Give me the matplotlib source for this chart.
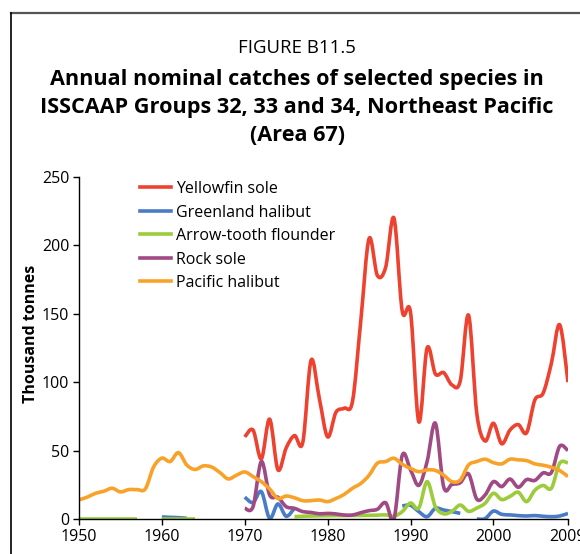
import numpy as np
import matplotlib
matplotlib.use("Agg")
import matplotlib.pyplot as plt
from matplotlib.path import Path
from matplotlib.patches import PathPatch
from matplotlib.lines import Line2D

plt.rcParams['font.family'] = ['Open Sans', 'DejaVu Sans']

years = list(range(1950, 2010))
nan = np.nan

# Annual catches, thousand tonnes (NaN = no data reported)
yellowfin_sole = [nan] * 20 + [
    60, 65, 44, 73, 36, 52, 61, 56, 116, 88,
    60, 78, 81, 86, 145, 205, 178, 184, 220, 152,
    151, 71, 125, 106, 107, 98, 101, 149, 77, 57,
    70, 55, 65, 69, 63, 87, 92, 114, 142, 100]

greenland_halibut = ([nan] * 10 + [1.5, 1.2, 1.0, 0.5] + [nan] * 6
                     + [16, 12, 20, 0.5, 11, 2, 8] + [nan] * 12
                     + [9.5, 10, 5.4, 1.7, 7.8, 6.6, 5.4, 4.1]
                     + [nan, 0, 0.3, 5.8, 3.4, 3, 2.5, 2.2, 2.5, 2, 1.7, 2.2, 4.1])

arrowtooth_flounder = ([0] * 8 + [nan, nan] + [0] * 5 + [nan] * 11
                       + [1.7, 2, 2.2, 2.3, 2.4, 2.5, 2.5, 2.6, 2.6, 2.7, 2.8, 3, 2,
                          5.4, 11.7, 8, 27.3, 9, 3.8, 5.6, 10.2, 5.6, 8, 11.5,
                          18.8, 14.2, 16.5, 19.6, 12.7, 21, 24.5, 22.5, 40.8, 41])

rock_sole = ([nan] * 20
             + [7.8, 9, 42, 17.6, 15.9, 9, 7.8, 5.4, 4.8, 3.8,
                4.1, 3.7, 2.9, 2.9, 4.6, 6.1, 7.1, 11.9, 0, 46.5,
                35.9, 24.6, 42, 70, 23.5, 25.3, 26.5, 33, 14.5, 17.6,
                27.3, 23.7, 29.2, 23.2, 28.8, 28.2, 33.7, 34, 53.2, 50])

pacific_halibut = [14, 16, 18.8, 20.3, 22.5, 19.8, 21.5, 21.5, 22, 38,
                   44.5, 42, 48.5, 39.5, 36.2, 38.8, 38, 34, 29.3, 32,
                   34.4, 31, 27.3, 22, 15, 16.8, 15.5, 13.4, 13.4, 13.9,
                   12.7, 15, 18, 22.5, 26, 32, 40.8, 42, 44.4, 40,
                   37, 34.6, 35.9, 35.5, 32, 27.3, 28.5, 39.5, 42, 43.7,
                   41.2, 40.3, 43.7, 43.2, 42.7, 40.3, 39.3, 37.8, 35.4, 31]

series = [
    ("Yellowfin sole", yellowfin_sole, "#EE4230"),
    ("Greenland halibut", greenland_halibut, "#4A7BC6"),
    ("Arrow-tooth flounder", arrowtooth_flounder, "#9CCB3C"),
    ("Rock sole", rock_sole, "#A04A84"),
    ("Pacific halibut", pacific_halibut, "#F9A22A"),
]

LW = 2.6


def smooth_path(xs, ys):
    """Bezier path through the points, Excel-style smoothed line."""
    n = len(xs)
    pts = np.column_stack([xs, ys]).astype(float)
    verts = [pts[0]]
    codes = [Path.MOVETO]
    for i in range(n - 1):
        p0 = pts[i - 1] if i > 0 else pts[i]
        p1 = pts[i]
        p2 = pts[i + 1]
        p3 = pts[i + 2] if i + 2 < n else pts[i + 1]
        c1 = p1 + (p2 - p0) / 6.0
        c2 = p2 - (p3 - p1) / 6.0
        verts += [c1, c2, p2]
        codes += [Path.CURVE4] * 3
    return Path(verts, codes)


fig = plt.figure(figsize=(5.8, 5.54), dpi=100)
ax = fig.add_axes([79 / 580, 1 - 519 / 554, (568 - 79) / 580, (519 - 177) / 554])

yr = np.array(years, dtype=float)
handles = []
for label, vals, color in series:
    v = np.array(vals, dtype=float)
    idx = np.where(~np.isnan(v))[0]
    runs = np.split(idx, np.where(np.diff(idx) > 1)[0] + 1)
    for r in runs:
        if len(r) == 0:
            continue
        if len(r) == 1:
            ax.plot(yr[r], v[r], color=color, lw=LW, solid_capstyle='butt')
            continue
        patch = PathPatch(smooth_path(yr[r], v[r]), fill=False, edgecolor=color,
                          lw=LW, capstyle='butt', joinstyle='round')
        ax.add_patch(patch)
    handles.append(Line2D([], [], color=color, lw=LW, label=label))

ax.set_xlim(1950, 2009)
ax.set_ylim(0, 250)
ax.set_xticks([1950, 1960, 1970, 1980, 1990, 2000, 2009])
ax.set_yticks([0, 50, 100, 150, 200, 250])
ax.tick_params(axis='both', direction='out', length=4, width=1, labelsize=11.5,
               colors='black')
ax.tick_params(axis='y', pad=3)
ax.tick_params(axis='x', pad=3)
for s in ('top', 'right'):
    ax.spines[s].set_visible(False)
for s in ('left', 'bottom'):
    ax.spines[s].set_linewidth(1)
    ax.spines[s].set_color('black')

ax.set_ylabel("Thousand tonnes", fontsize=11.5, fontweight='bold')
ax.yaxis.set_label_coords(-0.082, 0.54)

leg = ax.legend(handles=handles, loc='upper left',
                bbox_to_anchor=((140 - 79) / 489, (519 - 181) / 342),
                frameon=False, fontsize=11.5, handlelength=1.95,
                handletextpad=0.3, labelspacing=0.47, borderpad=0,
                borderaxespad=0)

# Titles
fig.text(297 / 580, 1 - 48 / 554, "FIGURE B11.5", ha='center', va='center',
         fontsize=13.4)
fig.text(297 / 580, 1 - 107.5 / 554,
         "Annual nominal catches of selected species in\n"
         "ISSCAAP Groups 32, 33 and 34, Northeast Pacific\n"
         "(Area 67)",
         ha='center', va='center', fontsize=15.55, fontweight='bold',
         linespacing=1.42)

# Outer frame
fig.add_artist(Line2D([10.5 / 580, 1.0], [1 - 12.5 / 554, 1 - 12.5 / 554],
                      color='#555555', lw=1.6, transform=fig.transFigure))
fig.add_artist(Line2D([10.5 / 580, 10.5 / 580], [1 - 12.5 / 554, 0],
                      color='black', lw=1.2, transform=fig.transFigure))

fig.savefig("out.png", dpi=100)
